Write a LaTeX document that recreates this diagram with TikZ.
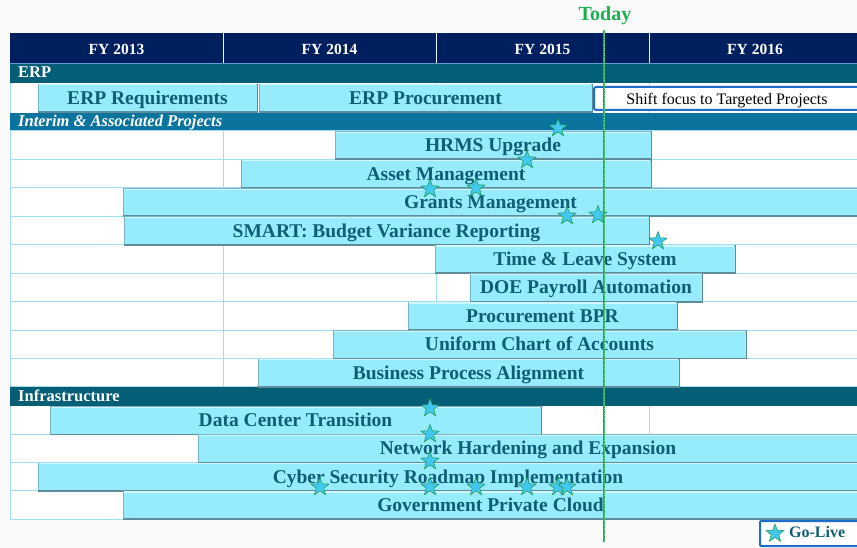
\documentclass[tikz,border=0pt]{standalone}
\usepackage{fontspec}
\setmainfont{Liberation Serif}
\usetikzlibrary{shapes.geometric}

\definecolor{hdrnavy}{RGB}{0,31,94}
\definecolor{banddark}{RGB}{3,94,118}
\definecolor{bandblue}{RGB}{10,116,158}
\definecolor{gridblue}{RGB}{160,222,246}
\definecolor{barfill}{RGB}{150,235,252}
\definecolor{barrim}{RGB}{120,180,198}
\definecolor{barshadow}{RGB}{95,140,155}
\definecolor{bartext}{RGB}{14,94,118}
\definecolor{todaygreen}{RGB}{30,176,80}
\definecolor{starfill}{RGB}{66,200,240}
\definecolor{boxblue}{RGB}{30,110,200}
\definecolor{pagebg}{RGB}{250,250,250}

\tikzset{
  ganttbar/.style={draw=barrim, fill=barfill, line width=0.8pt, inner sep=0pt,
    text=bartext, text height=14.5pt, text depth=1.5pt,
    font=\fontsize{19.5}{22}\selectfont\bfseries},
  barshade/.style={draw=barshadow, line width=1.8pt},
  barlight/.style={draw=white!55!barfill, line width=1.2pt},
  golive/.style={star, star points=5, star point ratio=2.4, minimum size=19pt,
    inner sep=0pt, fill=starfill, draw=todaygreen!85!black, line width=0.5pt},
  bandlabel/.style={anchor=base west, text=white, inner sep=0pt,
    font=\fontsize{16.5}{18}\selectfont\bfseries},
  fylabel/.style={anchor=base, text=white, inner sep=0pt,
    font=\fontsize{15.5}{18}\selectfont\bfseries},
  todayline/.style={draw=todaygreen, line width=2.6pt},
  bluebox/.style={draw=boxblue, line width=2pt, rounded corners=2pt, fill=white, inner sep=0pt},
}

% name, left x, right x, top y, text
\newcommand{\taskbar}[5]{%
  \node[ganttbar, minimum width={(#3-#2)*1pt}, minimum height=27.5pt] (#1)
    at ({(#2+#3)/2},{#4+13.75}) {#5};
  \draw[barlight] ([xshift=1pt,yshift=-1.2pt]#1.north west) -- ([xshift=-1.5pt,yshift=-1.2pt]#1.north east);
  \draw[barshade] (#1.north east) -- (#1.south east) -- (#1.south west);
}

\begin{document}
\begin{tikzpicture}[x=1pt,y=-1pt]
  \useasboundingbox (0,0) rectangle (857,548);
  \fill[pagebg] (0,0) rectangle (857,548);

  % year header
  \fill[hdrnavy] (10,33) rectangle (857,63);
  \foreach \gx in {223,436,649}
    \draw[white!80!gridblue, line width=1pt] (\gx,33) -- (\gx,63);
  \foreach \fy/\fx in {2013/116.5, 2014/329.5, 2015/542.5, 2016/755}
    \node[fylabel] (fy\fy) at (\fx,54.5) {FY \fy};

  % section bands
  \fill[banddark] (10,63) rectangle (857,83);
  \draw[boxblue!70!white, line width=1pt] (10,63.5) -- (857,63.5);
  \fill[white] (10,83) rectangle (857,113);
  \fill[bandblue] (10,113) rectangle (857,131);
  \fill[white] (10,131) rectangle (857,387);
  \fill[banddark] (10,387) rectangle (857,406);
  \fill[white] (10,406) rectangle (857,519);
  \node[bandlabel] (erpband) at (18,78) {ERP};
  \node[bandlabel] (interimband) at (18,127) {\itshape Interim \& Associated Projects};
  \node[bandlabel] (infraband) at (18,401) {Infrastructure};

  % grid
  \foreach \r in {0,...,9}
    \draw[gridblue, line width=1pt] (10,{131+\r*28.44}) -- (857,{131+\r*28.44});
  \foreach \r in {1,...,4}
    \draw[gridblue, line width=1pt] (10,{406+\r*28.25}) -- (857,{406+\r*28.25});
  \foreach \gx in {10,223,436,649} {
    \draw[gridblue, line width=1pt] (\gx,83) -- (\gx,113);
    \draw[gridblue, line width=1pt] (\gx,131) -- (\gx,387);
    \draw[gridblue, line width=1pt] (\gx,406) -- (\gx,519);
  }

  % ERP
  \taskbar{erpreq}{38}{257}{84}{ERP Requirements}
  \taskbar{erpproc}{259}{592}{84}{ERP Procurement}
  \node[bluebox, minimum width=266pt, minimum height=23pt,
    text height=12pt, text depth=0.5pt, font=\fontsize{16}{18}\selectfont]
    (shift) at (727,98.5) {Shift focus to Targeted Projects};

  % interim and associated projects
  \taskbar{hrms}{335}{651}{131.5}{HRMS Upgrade}
  \taskbar{asset}{241}{651}{160}{Asset Management}
  \taskbar{grants}{123}{858}{188.4}{Grants Management}
  \taskbar{smart}{124}{649}{216.8}{SMART: Budget Variance Reporting}
  \taskbar{leave}{435}{735}{245.3}{Time \& Leave System}
  \taskbar{payroll}{470}{702}{273.7}{DOE Payroll Automation}
  \taskbar{procbpr}{408}{677}{302.1}{Procurement BPR}
  \taskbar{coa}{333}{746}{330.6}{Uniform Chart of Accounts}
  \taskbar{bpa}{258}{679}{359}{Business Process Alignment}

  % infrastructure
  \taskbar{datacenter}{50}{541}{406.5}{Data Center Transition}
  \taskbar{network}{198}{858}{434.7}{Network Hardening and Expansion}
  \taskbar{cyber}{38}{858}{463}{Cyber Security Roadmap Implementation}
  \taskbar{cloud}{123}{858}{491.2}{Government Private Cloud}

  % go-live stars
  \foreach \sx/\sy [count=\i] in {558/128, 527/160, 430/189, 476/188, 567/216,
      598/215, 658/241, 430/408, 430/434, 430/461, 320/487, 430/487, 476/487,
      527/487, 558/487, 567/487}
    \node[golive] (star\i) at (\sx,\sy) {};

  % today marker
  \node[anchor=base, inner sep=0pt, text=todaygreen,
    font=\fontsize{20}{22}\selectfont\bfseries] (today) at (605,20.7) {Today};
  \coordinate (todayend) at (604,542);
  \draw[todayline] ([xshift=-1pt,yshift=-5pt]today.south) -- (todayend);
  \draw[todaygreen!55!white, line width=0.8pt, dash pattern=on 1pt off 1.5pt]
    ([xshift=-1pt,yshift=-5pt]today.south) -- (todayend);

  % legend
  \node[bluebox, rounded corners=1pt, minimum width=100pt, minimum height=25pt]
    (legend) at (810,533.5) {};
  \node[golive] (legendstar) at (775,533.5) {};
  \node[anchor=base west, inner sep=0pt, text=bartext,
    font=\fontsize{16}{18}\selectfont\bfseries] (legendtext) at (789,537.5) {Go-Live};
\end{tikzpicture}
\end{document}
